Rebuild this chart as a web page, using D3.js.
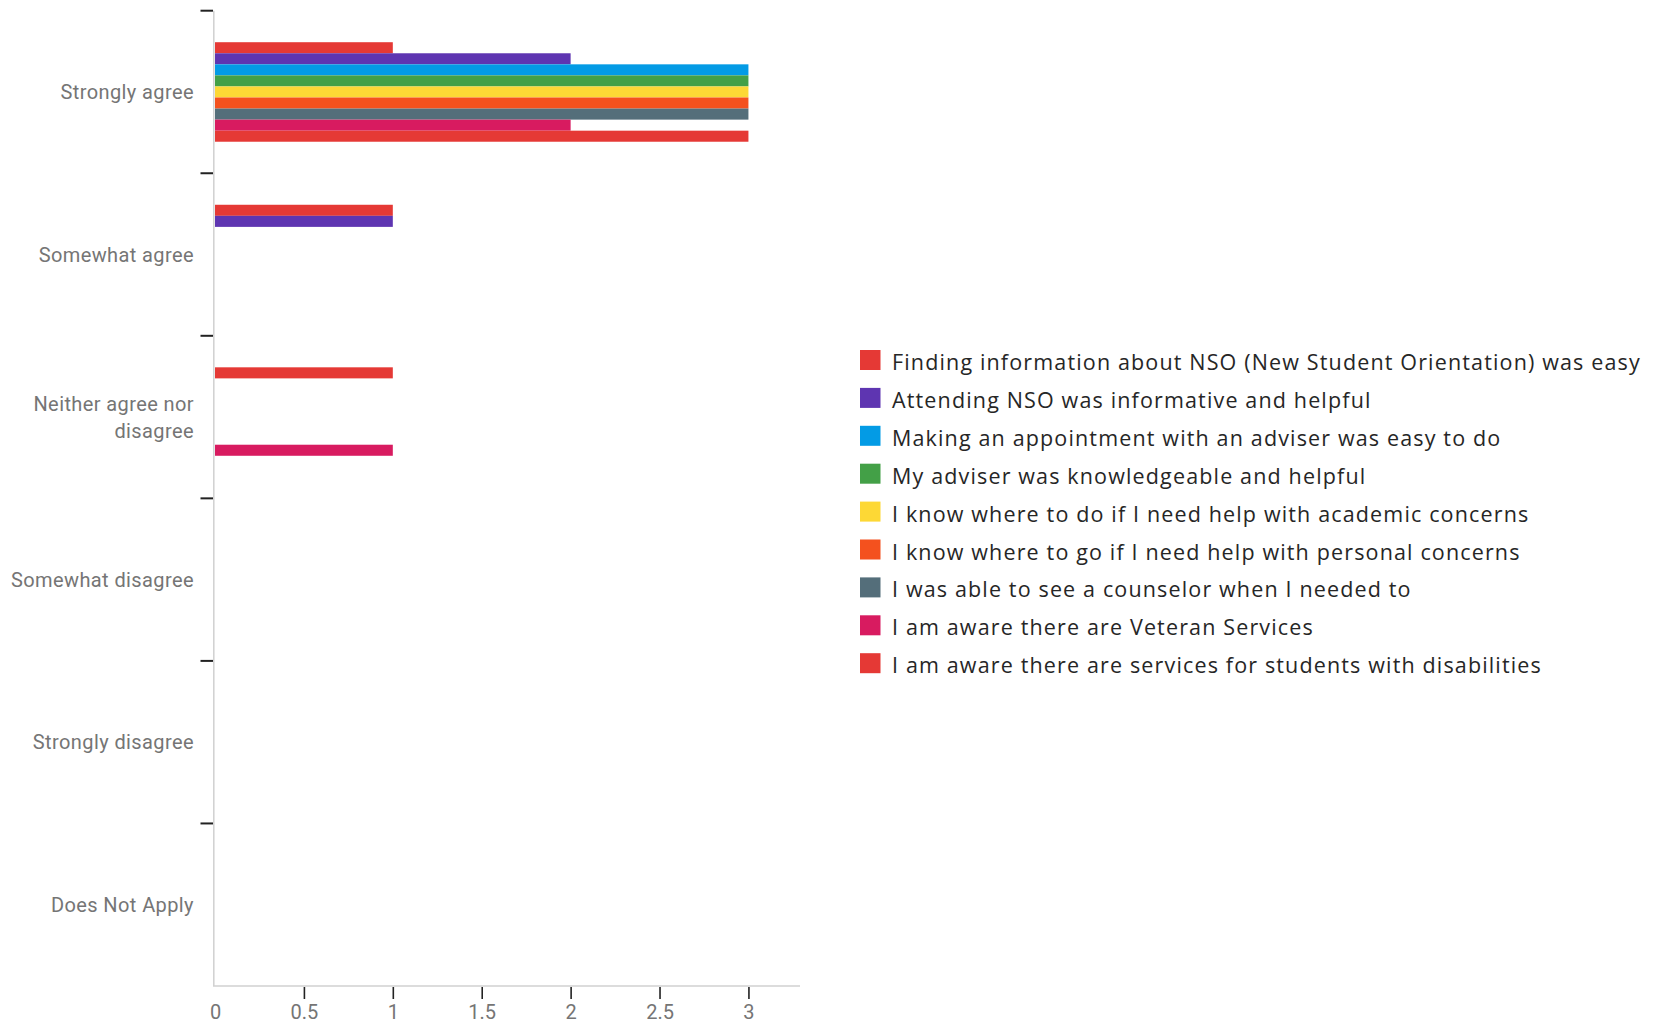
<!DOCTYPE html>
<html><head><meta charset="utf-8">
<script src="https://cdn.jsdelivr.net/npm/d3@7"></script>
<style>
body{margin:0;background:#fff;}
svg{display:block;}
</style></head>
<body>
<svg id="chart" width="1655" height="1023"></svg>
<script>
const categories = ["Strongly agree","Somewhat agree","Neither agree nor disagree","Somewhat disagree","Strongly disagree","Does Not Apply"];
const seriesNames = [
  "Finding information about NSO (New Student Orientation) was easy",
  "Attending NSO was informative and helpful",
  "Making an appointment with an adviser was easy to do",
  "My adviser was knowledgeable and helpful",
  "I know where to do if I need help with academic concerns",
  "I know where to go if I need help with personal concerns",
  "I was able to see a counselor when I needed to",
  "I am aware there are Veteran Services",
  "I am aware there are services for students with disabilities"
];
const seriesColors = ["#e53935","#5e35b1","#039be5","#43a047","#fdd835","#f4511e","#546e7a","#d81b60","#e53935"];
// values[series][category]
const findingInfo      = [1,1,1,0,0,0];
const attendingNSO     = [2,1,0,0,0,0];
const makingAppt       = [3,0,0,0,0,0];
const adviserKnowledge = [3,0,0,0,0,0];
const academicHelp     = [3,0,0,0,0,0];
const personalHelp     = [3,0,0,0,0,0];
const counselor        = [3,0,0,0,0,0];
const veteran          = [2,0,1,0,0,0];
const disabilities     = [3,0,0,0,0,0];
const seriesValues = [findingInfo,attendingNSO,makingAppt,adviserKnowledge,academicHelp,personalHelp,counselor,veteran,disabilities];
const xTicks = [0,0.5,1,1.5,2,2.5,3];
const xMax = 3.29;

const svg = d3.select("#chart");
const mLeft = 215, mRight = 800, mTop = 10.7, mBottom = 986;

const x = d3.scaleLinear().domain([0,xMax]).range([mLeft,mRight]);
const y = d3.scaleBand().domain(categories).range([mTop,mBottom]).paddingInner(0).paddingOuter(0);
const yInner = d3.scaleBand().domain(d3.range(seriesNames.length)).range([0,y.bandwidth()]).paddingInner(0).paddingOuter(2.85);

const font = "Roboto, 'Noto Sans', sans-serif";

// bars
const groups = svg.append("g").selectAll("g").data(categories).join("g")
  .attr("transform", c => `translate(0,${y(c)})`);
groups.selectAll("rect")
  .data((c,ci) => seriesValues.map((vals,si) => ({si, v: vals[ci]})).filter(d => d.v > 0))
  .join("rect")
  .attr("x", x(0))
  .attr("y", d => yInner(d.si))
  .attr("width", d => x(d.v) - x(0))
  .attr("height", yInner.bandwidth())
  .attr("fill", d => seriesColors[d.si]);

// y axis line
svg.append("line").attr("x1",mLeft-1.2).attr("x2",mLeft-1.2).attr("y1",mTop).attr("y2",mBottom)
  .attr("stroke","#d0d0d0").attr("stroke-width",1.5);
// x axis baseline
svg.append("line").attr("x1",mLeft-2).attr("x2",mRight).attr("y1",mBottom).attr("y2",mBottom)
  .attr("stroke","#d0d0d0").attr("stroke-width",1.5);

// y ticks at band boundaries
svg.append("g").selectAll("line").data(categories).join("line")
  .attr("x1", mLeft-14.5).attr("x2", mLeft-2)
  .attr("y1", c => y(c)).attr("y2", c => y(c))
  .attr("stroke","#222").attr("stroke-width",2);

// y labels
const wrap = {"Neither agree nor disagree":["Neither agree nor","disagree"]};
const yl = svg.append("g").selectAll("text").data(categories).join("text")
  .attr("x", mLeft-21)
  .attr("y", c => y(c) + y.bandwidth()/2)
  .attr("text-anchor","end")
  .attr("font-family",font).attr("font-size",20).attr("letter-spacing","0.4px").attr("fill","#757575");
yl.each(function(c){
  const lines = wrap[c] || [c];
  const t = d3.select(this);
  lines.forEach((ln,i) => {
    t.append("tspan").attr("x", mLeft-21)
     .attr("dy", i===0 ? ((-(lines.length-1)/2)*27 + 7) : 27)
     .text(ln);
  });
});

// x axis
const xAxis = d3.axisBottom(x).tickValues(xTicks).tickSize(12).tickSizeOuter(0).tickFormat(d3.format("~g"));
const xg = svg.append("g").attr("transform",`translate(0,${mBottom+1})`).call(xAxis);
xg.select(".domain").remove();
xg.selectAll(".tick line").attr("stroke","#222").attr("stroke-width",1.6)
  .attr("display", d => d===0 ? "none" : null);
xg.selectAll(".tick text").attr("font-family",font).attr("font-size",20).attr("fill","#757575").attr("y",18);

// legend
const lg = svg.append("g").attr("transform","translate(860,350)");
const li = lg.selectAll("g").data(seriesNames).join("g")
  .attr("transform",(d,i)=>`translate(0,${i*37.9})`);
li.append("rect").attr("width",20.5).attr("height",20).attr("fill",(d,i)=>seriesColors[i]);
li.append("text").attr("x",32).attr("y",20)
  .attr("font-family","'Open Sans', sans-serif").attr("font-size",21.5).attr("letter-spacing","1.15px").attr("fill","#262626")
  .text(d=>d);
</script>
</body></html>
